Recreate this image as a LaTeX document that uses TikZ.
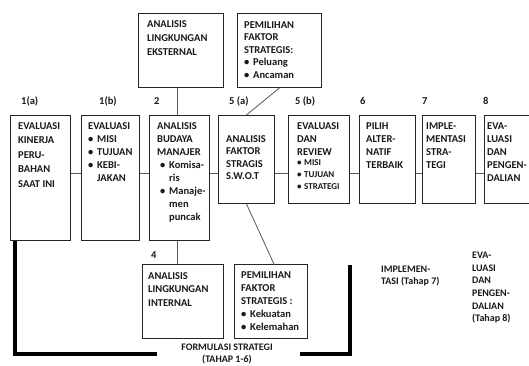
\documentclass[tikz,border=0pt]{standalone}
\usepackage{fontspec}
\setmainfont{Carlito}
\newcommand\bulitem{\makebox[9pt][l]{\textbullet}}
\newcommand\bulind{\hspace*{9pt}}
\tikzset{
  box/.style={draw=black!85, line width=0.9pt, inner sep=0pt, anchor=north west},
  txt/.style={anchor=north west, inner sep=0pt, align=left, text=black!90,
    font=\fontsize{10.5}{13}\selectfont\bfseries},
  lab/.style={anchor=west, inner sep=0pt, text=black!90,
    font=\fontsize{10.5}{12}\selectfont\bfseries},
  conn/.style={draw=black!65, line width=0.8pt},
  bracket/.style={draw=black, line width=4pt},
}
\begin{document}
\begin{tikzpicture}[x=1pt,y=-1pt]
\clip (0,0) rectangle (529,365);
\fill[white] (0,0) rectangle (529,365);

% main row boxes
\node[box, minimum width=60pt, minimum height=125pt] (b1a) at (10,115) {};
\node[box, minimum width=58pt, minimum height=125pt] (b1b) at (81,115) {};
\node[box, minimum width=60pt, minimum height=125pt] (b2) at (149,115) {};
\node[box, minimum width=56pt, minimum height=88pt] (b5a) at (218,115) {};
\node[box, minimum width=61pt, minimum height=88pt] (b5b) at (288,115) {};
\node[box, minimum width=56pt, minimum height=88pt] (b6) at (359,115) {};
\node[box, minimum width=53pt, minimum height=88pt] (b7) at (422,115) {};
\node[box, minimum width=60pt, minimum height=88pt] (b8) at (484,115) {};
% top boxes
\node[box, minimum width=85pt, minimum height=74pt] (ext) at (138,13) {};
\node[box, minimum width=84pt, minimum height=74pt] (pel) at (237,13) {};
% bottom boxes
\node[box, minimum width=81pt, minimum height=74pt] (int) at (142,264) {};
\node[box, minimum width=73pt, minimum height=74pt] (kek) at (234,264) {};

% box texts
\node[txt, font=\fontsize{10.5}{14.5}\selectfont\bfseries] (t1a) at ([shift={(8,7)}]b1a.north west)
  {EVALUASI\\KINERJA\\PERU-\\BAHAN\\SAAT INI};
\node[txt] (t1b) at ([shift={(7,7)}]b1b.north west)
  {EVALUASI\\\bulitem MISI\\\bulitem TUJUAN\\\bulitem KEBI-\\\bulind JAKAN};
\node[txt] (t2) at ([shift={(8,7)}]b2.north west)
  {ANALISIS\\BUDAYA\\MANAJER\\\hspace*{3pt}\bulitem Komisa-\\\hspace*{3pt}\bulind ris\\\hspace*{3pt}\bulitem Manaje-\\\hspace*{3pt}\bulind men\\\hspace*{3pt}\bulind puncak};
\node[txt, anchor=west, font=\fontsize{10.5}{12.5}\selectfont\bfseries] (t5a) at ([shift={(8,-2)}]b5a.west)
  {ANALISIS\\FAKTOR\\STRAGIS\\S.W.O.T};
\node[txt] (t5b) at ([shift={(9,7)}]b5b.north west)
  {EVALUASI\\DAN\\REVIEW};
\node[txt, font=\fontsize{9}{12}\selectfont\bfseries] (t5bb) at ([shift={(9,44)}]b5b.north west)
  {\makebox[7pt][l]{\textbullet}MISI\\\makebox[7pt][l]{\textbullet}TUJUAN\\\makebox[7pt][l]{\textbullet}STRATEGI};
\node[txt] (t6) at ([shift={(7,7)}]b6.north west)
  {PILIH\\ALTER-\\NATIF\\TERBAIK};
\node[txt] (t7) at ([shift={(4,7)}]b7.north west)
  {IMPLE-\\MENTASI\\STRA-\\TEGI};
\node[txt] (t8) at ([shift={(3,7)}]b8.north west)
  {EVA-\\LUASI\\DAN\\PENGEN-\\DALIAN};
\node[txt, font=\fontsize{10.5}{14}\selectfont\bfseries] (text) at ([shift={(9,7)}]ext.north west)
  {ANALISIS\\LINGKUNGAN\\EKSTERNAL};
\node[txt, font=\fontsize{10.5}{12.5}\selectfont\bfseries] (tpel) at ([shift={(7,8)}]pel.north west)
  {PEMILIHAN\\FAKTOR\\STRATEGIS:\\\bulitem Peluang\\\bulitem Ancaman};
\node[txt, font=\fontsize{10.5}{13.5}\selectfont\bfseries] (tint) at ([shift={(6,8)}]int.north west)
  {ANALISIS\\LINGKUNGAN\\INTERNAL};
\node[txt, font=\fontsize{10.5}{13}\selectfont\bfseries] (tkek) at ([shift={(7,7)}]kek.north west)
  {PEMILIHAN\\FAKTOR\\STRATEGIS :\\\bulitem Kekuatan\\\bulitem Kelemahan};

% step labels
\node[lab] (l1a) at (21,101) {1(a)};
\node[lab] (l1b) at (99,101) {1(b)};
\node[lab] (l2) at (154,101) {2};
\node[lab] (l5a) at (229,101) {5 (a)};
\node[lab] (l5b) at (295,101) {5 (b)};
\node[lab] (l6) at (360,101) {6};
\node[lab] (l7) at (422,101) {7};
\node[lab] (l8) at (483,101) {8};
\node[lab] (l4) at (151,255) {4};

% connectors
\coordinate (hl) at (0,173);
\coordinate (vx) at (177,0);
\draw[conn] (b1a.east |- hl) -- (b1b.west |- hl);
\draw[conn] (b1b.east |- hl) -- (b2.west |- hl);
\draw[conn] (b2.east |- hl) -- (b5a.west |- hl);
\draw[conn] (b5a.east |- hl) -- (b5b.west |- hl);
\draw[conn] (b5b.east |- hl) -- (b6.west |- hl);
\draw[conn] (b6.east |- hl) -- (b7.west |- hl);
\draw[conn] (b7.east |- hl) -- (b8.west |- hl);
\draw[conn] (ext.south -| vx) -- (b2.north -| vx);
\draw[conn] (b2.south -| vx) -- (int.north -| vx);
\draw[conn] (pel.south) -- (b5a.north);
\draw[conn] (b5a.south) -- ([xshift=3pt]kek.north);

% bracket
\coordinate (bl) at (15,354);
\coordinate (ble) at (157,354);
\coordinate (brs) at (300,354);
\coordinate (br) at (350,354);
\coordinate (brt) at (350,265);
\draw[bracket] (b1a.south -| bl) -- (bl) -- (ble);
\draw[bracket] (brs) -- (br) -- (brt);

\node[anchor=north, inner sep=0pt, align=center, text=black!90,
  font=\fontsize{10}{11.5}\selectfont\bfseries] (form) at (227,344)
  {FORMULASI STRATEGI\\(TAHAP 1-6)};

\node[txt, font=\fontsize{10}{12}\selectfont\bfseries] (impl) at (381,266)
  {IMPLEMEN-\\TASI (Tahap 7)};
\node[txt, font=\fontsize{10}{12.6}\selectfont\bfseries] (evl) at (472,252)
  {EVA-\\LUASI\\DAN\\PENGEN-\\DALIAN\\(Tahap 8)};
\end{tikzpicture}
\end{document}
